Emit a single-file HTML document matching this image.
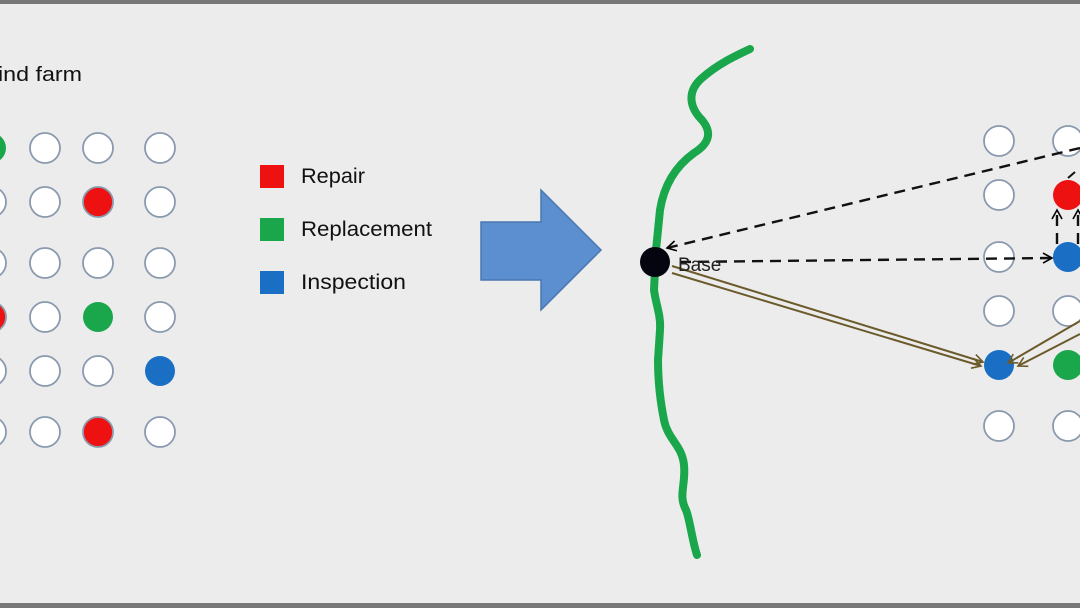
<!DOCTYPE html>
<html><head><meta charset="utf-8"><style>
html,body{margin:0;padding:0;background:#ececec;}
svg{display:block}
text{font-family:"Liberation Sans",sans-serif}
</style></head><body>
<svg width="1080" height="608" viewBox="0 0 1080 608" xmlns="http://www.w3.org/2000/svg">
<defs>
<marker id="ak" markerWidth="12" markerHeight="12" refX="10" refY="6" orient="auto" markerUnits="userSpaceOnUse"><path d="M1,1 L10,6 L1,11" fill="none" stroke="#000" stroke-width="1.6"/></marker>
<marker id="ab" markerWidth="12" markerHeight="12" refX="10" refY="6" orient="auto" markerUnits="userSpaceOnUse"><path d="M1,1 L10,6 L1,11" fill="none" stroke="#6b5a2a" stroke-width="1.6"/></marker>
</defs>
<rect x="0" y="0" width="1080" height="608" fill="#ececec"/>
<rect x="0" y="0" width="1080" height="4" fill="#777"/>
<rect x="0" y="603" width="1080" height="5" fill="#777"/>
<text x="-2" y="81" font-size="20" fill="#111" textLength="84" lengthAdjust="spacingAndGlyphs">ind farm</text>
<g stroke="#8a9aae" stroke-width="1.8" fill="#fff">
<circle cx="-9" cy="148" r="15" fill="#1aa64a" stroke="none"/><circle cx="45" cy="148" r="15"/><circle cx="98" cy="148" r="15"/><circle cx="160" cy="148" r="15"/>
<circle cx="-9" cy="202" r="15"/><circle cx="45" cy="202" r="15"/><circle cx="98" cy="202" r="15" fill="#ee1111"/><circle cx="160" cy="202" r="15"/>
<circle cx="-9" cy="263" r="15"/><circle cx="45" cy="263" r="15"/><circle cx="98" cy="263" r="15"/><circle cx="160" cy="263" r="15"/>
<circle cx="-9" cy="317" r="15" fill="#ee1111"/><circle cx="45" cy="317" r="15"/><circle cx="98" cy="317" r="15" fill="#1aa64a" stroke="none"/><circle cx="160" cy="317" r="15"/>
<circle cx="-9" cy="371" r="15"/><circle cx="45" cy="371" r="15"/><circle cx="98" cy="371" r="15"/><circle cx="160" cy="371" r="15" fill="#1a6fc4" stroke="none"/>
<circle cx="-9" cy="432" r="15"/><circle cx="45" cy="432" r="15"/><circle cx="98" cy="432" r="15" fill="#ee1111"/><circle cx="160" cy="432" r="15"/>
</g>
<rect x="260" y="165" width="24" height="23" fill="#ee1111"/>
<rect x="260" y="218" width="24" height="23" fill="#1aa64a"/>
<rect x="260" y="271" width="24" height="23" fill="#1a6fc4"/>
<text x="301" y="183" font-size="21" fill="#111" textLength="64" lengthAdjust="spacingAndGlyphs">Repair</text>
<text x="301" y="236" font-size="21" fill="#111" textLength="131" lengthAdjust="spacingAndGlyphs">Replacement</text>
<text x="301" y="289" font-size="21" fill="#111" textLength="105" lengthAdjust="spacingAndGlyphs">Inspection</text>
<path d="M481,222 L541,222 L541,190 L601,250 L541,310 L541,280 L481,280 Z" fill="#5b8fd0" stroke="#4a77b0" stroke-width="1.5"/>
<path d="M750,49 C735,56 718,64 702,78 C686,92 690,108 702,120 C712,132 710,143 694,153 C676,166 664,185 660,210 L656,250 L654,290 C656,305 661,315 660,330 L658,360 C658,380 660,400 664,420 C668,440 682,445 684,465 C686,485 678,495 686,510 C690,520 692,540 697,555" fill="none" stroke="#1aa64a" stroke-width="8" stroke-linejoin="round" stroke-linecap="round"/>
<g fill="#fff" stroke="#8a9aae" stroke-width="1.8">
<circle cx="999" cy="141" r="15"/><circle cx="1068" cy="141" r="15"/>
<circle cx="999" cy="195" r="15"/><circle cx="1068" cy="195" r="15" fill="#ee1111" stroke="none"/>
<circle cx="999" cy="257" r="15"/><circle cx="1068" cy="257" r="15" fill="#1a6fc4" stroke="none"/>
<circle cx="999" cy="311" r="15"/><circle cx="1068" cy="311" r="15"/>
<circle cx="999" cy="365" r="15" fill="#1a6fc4" stroke="none"/><circle cx="1068" cy="365" r="15" fill="#1aa64a" stroke="none"/>
<circle cx="999" cy="426" r="15"/><circle cx="1068" cy="426" r="15"/>
</g>
<g stroke="#111" stroke-width="2.4" stroke-dasharray="11,7" fill="none">
<line x1="1080" y1="148" x2="667" y2="248" marker-end="url(#ak)"/>
<line x1="680" y1="262" x2="1052" y2="258" marker-end="url(#ak)"/>
<line x1="1057" y1="244" x2="1057" y2="210" marker-end="url(#ak)"/>
<line x1="1078" y1="244" x2="1078" y2="210" marker-end="url(#ak)"/>
</g>
<line x1="1068" y1="178" x2="1075" y2="172" stroke="#111" stroke-width="2"/>
<g stroke="#6b5a2a" stroke-width="2" fill="none">
<line x1="672" y1="266" x2="983" y2="362" marker-end="url(#ab)"/>
<line x1="672" y1="273" x2="981" y2="366" marker-end="url(#ab)"/>
<line x1="1080" y1="321" x2="1008" y2="363" marker-end="url(#ab)"/>
<line x1="1080" y1="334" x2="1018" y2="366" marker-end="url(#ab)"/>
</g>
<circle cx="655" cy="262" r="15" fill="#050510"/>
<text x="678" y="271" font-size="19" fill="#222">Base</text>
</svg>
</body></html>
